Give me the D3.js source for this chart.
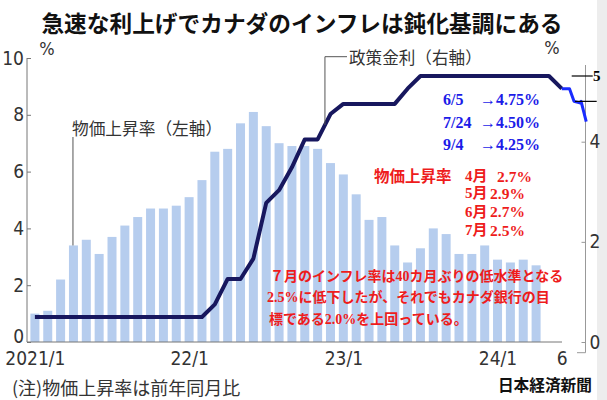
<!DOCTYPE html>
<html><head><meta charset="utf-8">
<script src="https://cdn.jsdelivr.net/npm/d3@7"></script>
<style>
html,body{margin:0;padding:0;background:#fff;}
svg{display:block;}
.jp{font-family:"Noto Sans CJK JP","Noto Sans",sans-serif;}
.num{font-family:"Liberation Sans Narrow","DejaVu Sans Condensed","Liberation Sans",sans-serif;}
.ser{font-family:"Liberation Serif","Noto Sans CJK JP",serif;font-weight:bold;}
</style></head>
<body>
<svg id="c" width="607" height="400"></svg>
<script>
// ---- data ----
const monthLabels = [];
for (let yr = 2021; yr <= 2024; yr++) for (let m = 1; m <= 12; m++) monthLabels.push(yr + "/" + m);
// CPI year-on-year (%), 2021/1 .. 2024/4  (left axis)
const cpi = [1.0,1.1,2.2,3.4,3.6,3.1,3.7,4.1,4.4,4.7,4.7,4.8,
             5.1,5.7,6.7,6.8,7.7,8.1,7.6,7.0,6.9,6.9,6.8,6.3,
             5.9,5.2,4.3,4.4,3.4,2.8,3.3,4.0,3.8,3.1,3.1,3.4,
             2.9,2.8,2.9,2.7];
// Policy rate (%), 2021/1 .. 2024/6 (right axis)
const policyRate = [0.25,0.25,0.25,0.25,0.25,0.25,0.25,0.25,0.25,0.25,0.25,0.25,
                    0.25,0.25,0.5,1.0,1.0,1.4,2.5,2.75,3.2,3.75,3.75,4.25,
                    4.45,4.45,4.45,4.45,4.45,4.75,5.0,5.0,5.0,5.0,5.0,5.0,
                    5.0,5.0,5.0,5.0,5.0,4.75];
// hand-drawn extension (month index, rate)
const tailIdx  = [41, 41.6, 41.95, 42.4, 42.5, 42.9];
const tailRate = [4.75, 4.75, 4.5, 4.47, 4.5, 4.1];
const xTickIdx    = [0, 12, 24, 36, 41];
const xTickLabels = ["2021/1", "22/1", "23/1", "24/1", "6"];
const leftTicks  = [0, 2, 4, 6, 8, 10];
const rightTicks = [0, 2, 4];
const cutDates  = ["6/5", "7/24", "9/4"];
const cutRates  = ["→4.75%", "→4.50%", "→4.25%"];
const cpiMonths = ["4月", "5月", "6月", "7月"];
const cpiRecent = ["2.7%", "2.9%", "2.7%", "2.5%"];
const noteLines = ["７月のインフレ率は40カ月ぶりの低水準となる",
                   "2.5%に低下したが、それでもカナダ銀行の目",
                   "標である2.0%を上回っている。"];

// ---- scales ----
const svg = d3.select("#c");
const x = d3.scaleLinear().domain([0, 41]).range([34.9, 561.8]);
const y = d3.scaleLinear().domain([0, 10]).range([342, 58]);
const yRate = d3.scaleLinear().domain([0.25, 5]).range([317, 76]);
const yRight = d3.scaleLinear().domain([0, 4]).range([342, 141.7]);

// right grey strip
svg.append("rect").attr("x", 597).attr("y", 0).attr("width", 10).attr("height", 400).attr("fill", "#ededed");

// title
svg.append("text").attr("class", "jp").attr("x", 302).attr("y", 22)
  .attr("text-anchor", "middle").attr("dominant-baseline", "central")
  .attr("font-size", 22.7).attr("font-weight", 700).attr("fill", "#111")
  .text("急速な利上げでカナダのインフレは鈍化基調にある");

// bars
const bw = 9;
svg.append("g").selectAll("rect").data(cpi).join("rect")
  .attr("x", (d, i) => x(i) - bw / 2).attr("y", d => y(d))
  .attr("width", bw).attr("height", d => y(0) - y(d))
  .attr("fill", "#b6cdee");

// left axis
const gl = svg.append("g").attr("transform", "translate(27,0)");
gl.call(d3.axisLeft(y).tickValues(leftTicks).tickSize(-4).tickPadding(3).tickFormat(d3.format("d")));
gl.select(".domain").attr("stroke", "#777").attr("d", `M0,${y(10)}V${y(0)}`);
gl.selectAll(".tick line").attr("stroke", "#777");
gl.selectAll(".tick text").attr("class", "num").attr("font-size", 19).attr("fill", "#333")
  .attr("dy", d => d === 0 ? "0.04em" : "0.32em");

// bottom axis
const gb = svg.append("g").attr("transform", `translate(0,${y(0)})`);
gb.call(d3.axisBottom(x).tickValues(xTickIdx).tickSize(0).tickPadding(10)
  .tickFormat((d, i) => xTickLabels[i]));
gb.select(".domain").attr("stroke", "#777").attr("d", "M27,0H562");
gb.selectAll(".tick text").attr("class", "num").attr("font-size", 19).attr("fill", "#333");

// right axis
const gr = svg.append("g").attr("transform", "translate(585.5,0)");
gr.call(d3.axisRight(yRight).tickValues(rightTicks).tickSize(-4).tickPadding(4).tickFormat(d3.format("d")));
gr.select(".domain").attr("stroke", "#999").attr("d", `M0,65V352.7H-8.5`);
gr.selectAll(".tick line").attr("stroke", "#999");
gr.selectAll(".tick text").attr("class", "num").attr("font-size", 19).attr("fill", "#333");

// unit labels
svg.append("text").attr("class", "num").attr("x", 47).attr("y", 48).attr("text-anchor", "middle")
  .attr("dominant-baseline", "central").attr("font-size", 18).attr("fill", "#333").text("%");
svg.append("text").attr("class", "num").attr("x", 552).attr("y", 47).attr("text-anchor", "middle")
  .attr("dominant-baseline", "central").attr("font-size", 18).attr("fill", "#333").text("%");

// policy rate line
const line = d3.line().x(d => x(d[0])).y(d => yRate(d[1]));
svg.append("path").datum(policyRate.map((v, i) => [i, v]))
  .attr("d", line).attr("fill", "none").attr("stroke", "#17175e")
  .attr("stroke-width", 4).attr("stroke-linejoin", "round");
svg.append("path").datum(tailIdx.map((v, i) => [v, tailRate[i]]))
  .attr("d", line).attr("fill", "none").attr("stroke", "#1a2cff")
  .attr("stroke-width", 3).attr("stroke-linejoin", "round");

// "5" marker lines
svg.append("line").attr("x1", 571.7).attr("x2", 592.7).attr("y1", yRate(5)).attr("y2", yRate(5))
  .attr("stroke", "#000").attr("stroke-width", 1.2);
svg.append("line").attr("x1", 575).attr("x2", 596.7).attr("y1", yRate(4.5)).attr("y2", yRate(4.5))
  .attr("stroke", "#000").attr("stroke-width", 1.2);
svg.append("text").attr("class", "ser").attr("x", 593).attr("y", yRate(5)).attr("dominant-baseline", "central")
  .attr("font-size", 15).attr("fill", "#000").text("5");

// leader: policy rate label
const lx = x(22.57), ly = yRate(3.75 + 0.57 * 0.5);
svg.append("path").attr("d", `M${lx},${ly}V56.7H347`).attr("fill", "none").attr("stroke", "#555").attr("stroke-width", 1);
svg.append("text").attr("class", "jp").attr("x", 349).attr("y", 56.7).attr("dominant-baseline", "central")
  .attr("font-size", 16.6).attr("fill", "#333").text("政策金利（右軸）");

// leader: CPI label
svg.append("line").attr("x1", x(3) - 0.5).attr("x2", x(3) - 0.5).attr("y1", y(cpi[3])).attr("y2", 137)
  .attr("stroke", "#555").attr("stroke-width", 1);
svg.append("text").attr("class", "jp").attr("x", 72).attr("y", 128.3).attr("dominant-baseline", "central")
  .attr("font-size", 16.7).attr("fill", "#333").text("物価上昇率（左軸）");

// blue annotations
const blueY = [99.5, 122, 144];
cutDates.forEach((d, i) => {
  svg.append("text").attr("class", "ser").attr("x", 443).attr("y", blueY[i]).attr("dominant-baseline", "central")
    .attr("font-size", 16).attr("fill", "#1c1ce8").text(d);
  svg.append("text").attr("class", "ser").attr("x", 480).attr("y", blueY[i]).attr("dominant-baseline", "central")
    .attr("font-size", 16).attr("fill", "#1c1ce8").text(cutRates[i]);
});

// red CPI list
const redY = [176, 193, 211.5, 230];
const red = "#ee1c1c";
svg.append("text").attr("class", "ser").attr("x", 374).attr("y", redY[0]).attr("dominant-baseline", "central")
  .attr("font-size", 15.5).attr("fill", red).text("物価上昇率");
cpiMonths.forEach((m, i) => {
  svg.append("text").attr("class", "ser").attr("x", 465).attr("y", redY[i]).attr("dominant-baseline", "central")
    .attr("font-size", 15).attr("fill", red).text(m);
  svg.append("text").attr("class", "ser").attr("x", i === 0 ? 497 : 490).attr("y", redY[i]).attr("dominant-baseline", "central")
    .attr("font-size", 15.5).attr("fill", red).text(cpiRecent[i]);
});

// red paragraph
const noteX = [270, 267, 269], noteY = [276.5, 297.5, 319];
noteLines.forEach((t, i) => {
  svg.append("text").attr("class", "ser").attr("x", noteX[i]).attr("y", noteY[i]).attr("dominant-baseline", "central")
    .attr("font-size", 14).attr("fill", red).text(t);
});

// footnotes
svg.append("text").attr("class", "jp").attr("x", 12).attr("y", 386.5).attr("dominant-baseline", "central")
  .attr("font-size", 18).attr("fill", "#333").text("(注)物価上昇率は前年同月比");
svg.append("text").attr("class", "jp").attr("x", 592).attr("y", 384).attr("text-anchor", "end")
  .attr("dominant-baseline", "central").attr("font-size", 15.7).attr("font-weight", 700).attr("fill", "#111")
  .text("日本経済新聞");
</script>
</body></html>
